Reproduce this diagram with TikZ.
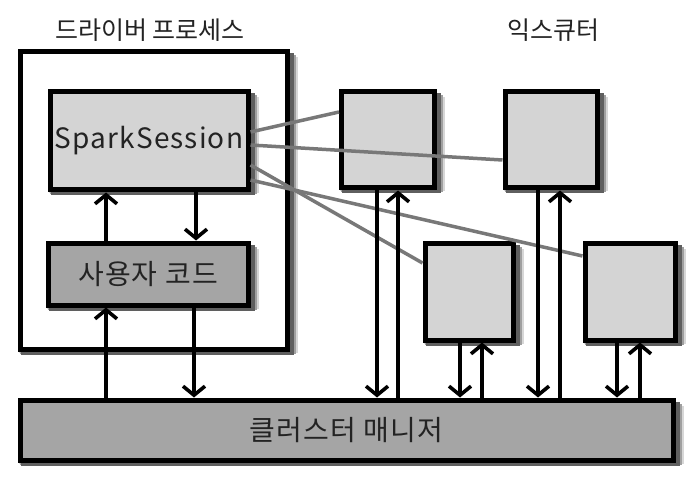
\documentclass[tikz,border=0pt]{standalone}
\usepackage{fontspec}
\setmainfont{Noto Sans CJK KR}
\usetikzlibrary{arrows.meta}
\pgfdeclarelayer{shadowlayer}
\pgfdeclarelayer{drvlayer}
\pgfdeclarelayer{innershadow}
\pgfsetlayers{shadowlayer,drvlayer,innershadow,main}
\definecolor{lightbox}{RGB}{212,212,212}
\definecolor{darkbox}{RGB}{165,165,165}
\definecolor{ink}{RGB}{35,35,35}
\definecolor{wire}{RGB}{120,120,120}
\definecolor{shadeA}{RGB}{215,215,215}
\definecolor{shadeB}{RGB}{160,160,160}
\definecolor{shadeC}{RGB}{95,95,95}
\tikzset{
  boxbase/.style={draw=black, line width=5pt, inner sep=0pt},
  lightnode/.style={boxbase, fill=lightbox},
  darknode/.style={boxbase, fill=darkbox},
  outernode/.style={boxbase, fill=white},
  lbl/.style={text=ink, font=\fontsize{25}{30}\selectfont},
  biglbl/.style={text=ink, font=\fontsize{28}{32}\selectfont\addfontfeature{LetterSpace=4}},
  arr/.style={draw=black, line width=3.8pt, -{Straight Barb[length=9pt,width=22pt,line width=3.6pt]}},
  wireline/.style={draw=wire, line width=3.5pt}
}
\newcommand\castshadow[2]{%
  \begin{pgfonlayer}{#1}
    \fill[shadeA] ([shift={(1pt,-1pt)}]#2.south west) rectangle ([shift={(8pt,-8pt)}]#2.north east);
    \fill[shadeB] ([shift={(2pt,-2pt)}]#2.south west) rectangle ([shift={(6pt,-6pt)}]#2.north east);
    \fill[shadeC] ([shift={(3pt,-3pt)}]#2.south west) rectangle ([shift={(4pt,-4pt)}]#2.north east);
  \end{pgfonlayer}}
\begin{document}
\begin{tikzpicture}[x=1pt,y=-1pt]
\useasboundingbox (0,0) rectangle (700,478);
\node[lbl] (t1) at (150,30) {드라이버 프로세스};
\node[lbl] (t2) at (553,30) {익스큐터};
\begin{pgfonlayer}{drvlayer}
\node[outernode, minimum width=267pt, minimum height=297pt] (drv) at (153.5,200.5) {};
\end{pgfonlayer}
\node[lightnode, minimum width=198pt, minimum height=98pt, biglbl] (ss) at (149,141) {SparkSession};
\node[darknode, minimum width=200pt, minimum height=62pt, biglbl] (uc) at (148,274) {사용자 코드};
\node[darknode, minimum width=653pt, minimum height=60pt, biglbl] (cm) at (346.5,430) {클러스터 매니저};
\node[lightnode, minimum width=93pt, minimum height=96pt] (e1) at (388,140) {};
\node[lightnode, minimum width=92pt, minimum height=96pt] (e2) at (551,140) {};
\node[lightnode, minimum width=88pt, minimum height=97pt] (e3) at (469,291.5) {};
\node[lightnode, minimum width=90pt, minimum height=97pt] (e4) at (630,291.5) {};
\castshadow{shadowlayer}{drv}
\castshadow{shadowlayer}{cm}
\castshadow{shadowlayer}{e1}
\castshadow{shadowlayer}{e2}
\castshadow{shadowlayer}{e3}
\castshadow{shadowlayer}{e4}
\castshadow{innershadow}{ss}
\castshadow{innershadow}{uc}
% wires to executors
\draw[wireline] ([yshift=9pt]ss.east) -- ([yshift=28pt]e1.west);
\draw[wireline] ([yshift=-4pt]ss.east) -- ([yshift=-20pt]e2.west);
\draw[wireline] ([yshift=-24pt]ss.east) -- ([yshift=28.5pt]e3.west);
\draw[wireline] ([yshift=-39pt]ss.east) -- ([yshift=35.5pt]e4.west);
% driver arrows
\draw[arr] ([xshift=-42pt]uc.north) -- ([xshift=-43pt]ss.south);
\draw[arr] ([xshift=47pt]ss.south) -- ([xshift=48pt]uc.north);
\draw[arr] ([xshift=-42pt]uc.south |- cm.north) -- ([xshift=-42pt]uc.south);
\draw[arr] ([xshift=46pt]uc.south) -- ([xshift=46pt]uc.south |- cm.north);
% executor arrows
\draw[arr] ([xshift=-11pt]e1.south) -- ([xshift=-11pt]e1.south |- cm.north);
\draw[arr] ([xshift=10pt]e1.south |- cm.north) -- ([xshift=10pt]e1.south);
\draw[arr] ([xshift=-13pt]e2.south) -- ([xshift=-13pt]e2.south |- cm.north);
\draw[arr] ([xshift=9pt]e2.south |- cm.north) -- ([xshift=9pt]e2.south);
\draw[arr] ([xshift=-9pt]e3.south) -- ([xshift=-9pt]e3.south |- cm.north);
\draw[arr] ([xshift=13pt]e3.south |- cm.north) -- ([xshift=13pt]e3.south);
\draw[arr] ([xshift=-13pt]e4.south) -- ([xshift=-13pt]e4.south |- cm.north);
\draw[arr] ([xshift=10pt]e4.south |- cm.north) -- ([xshift=10pt]e4.south);
\end{tikzpicture}
\end{document}
